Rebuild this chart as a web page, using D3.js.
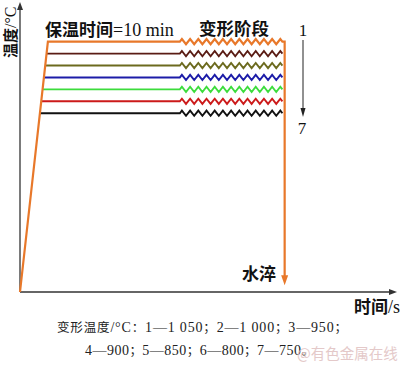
<!DOCTYPE html>
<html><head><meta charset="utf-8">
<script src="https://cdn.jsdelivr.net/npm/d3@7"></script>
<style>html,body{margin:0;padding:0;background:#fff;}svg{display:block;}</style>
</head><body>
<svg id="c" width="400" height="366"></svg>
<script>
// ---- data ----
const stepLabels = ["1","2","3","4","5","6","7"];
const deformTemps = [1050, 1000, 950, 900, 850, 800, 750];   // °C
const lineColors = ["#e8782a","#5a1c14","#6c6a1e","#1c1ca8","#3cdc3c","#cc1a1a","#111111"];
const heatEndTime = 7.4;      // time reaching 1050 °C (arbitrary units)
const deformStartTime = 42.4; // end of 10 min holding
const deformEndTime = 69.6;
const quenchTime = 70.2;
const quenchTemp = 28;
const zigzagTeeth = 12.5;
const captionLines = ["变形温度/°C：1—1 050；2—1 000；3—950；", "4—900；5—850；6—800；7—750。"];

// ---- scales ----
const svg = d3.select("#c");
const x = d3.scaleLinear().domain([0, 100]).range([20, 397]);
const y = d3.scaleLinear().domain([0, 1050]).range([292, 41.7]);
const latin = "'Liberation Serif','Noto Sans CJK SC',serif";
const cjk = "'Noto Sans CJK SC',sans-serif";

// mixed text: CJK runs and Latin runs with own size/weight
function mixed(sel, str, o) {
  const re = /([\u3000-\u303f\u4e00-\u9fff\uff00-\uffef]+)|([^\u3000-\u303f\u4e00-\u9fff\uff00-\uffef]+)/g;
  let m;
  while ((m = re.exec(str)) !== null) {
    if (m[1]) sel.append("tspan").attr("font-family", cjk).attr("font-size", o.cs).attr("font-weight", o.cw).text(m[1]);
    else sel.append("tspan").attr("font-family", latin).attr("font-size", o.ls).attr("font-weight", o.lw).text(m[2]);
  }
  return sel;
}

// axes
const axisColor = "#333";
svg.append("line").attr("x1", x(0)).attr("x2", 392).attr("y1", y(0)).attr("y2", y(0))
  .attr("stroke", axisColor).attr("stroke-width", 1.3);
svg.append("path").attr("d", `M397,${y(0)} L389,${y(0)-3} L389,${y(0)+3} Z`).attr("fill", axisColor);
svg.append("line").attr("x1", x(0)).attr("x2", x(0)).attr("y1", y(0)).attr("y2", 8)
  .attr("stroke", axisColor).attr("stroke-width", 1.3);
svg.append("path").attr("d", `M${x(0)},2 L${x(0)-3},10 L${x(0)+3},10 Z`).attr("fill", axisColor);

function zigzag(t0, t1, level) {
  const x0 = x(t0), x1 = x(t1), yl = y(level);
  const n = Math.round(zigzagTeeth * 2);
  const step = (x1 - x0) / n;
  const pts = [[x0, yl]];
  for (let i = 0; i < n; i++) {
    const xm = x0 + step * (i + 0.5);
    pts.push([xm, yl + (i % 2 === 0 ? -2.6 : 2.6)]);
  }
  pts.push([x1, yl]);
  return pts;
}

// lines (draw 7..2 first, orange on top)
const order = d3.range(deformTemps.length).reverse();
order.forEach(i => {
  const T = deformTemps[i];
  const tStart = heatEndTime * T / 1050;
  let pts = [];
  if (i === 0) pts.push([x(0), y(0)]);
  pts.push([x(tStart), y(T)]);
  pts.push([x(deformStartTime), y(T)]);
  pts = pts.concat(zigzag(deformStartTime, deformEndTime, T).slice(1));
  if (i === 0) {
    pts.push([x(quenchTime), y(T)]);
    pts.push([x(quenchTime), y(quenchTemp) - 8]);
  }
  svg.append("path").attr("d", d3.line()(pts)).attr("fill", "none")
    .attr("stroke", lineColors[i]).attr("stroke-width", i === 0 ? 2.2 : 1.9)
    .attr("stroke-linejoin", "miter");
  if (i === 0) {
    const xq = x(quenchTime), yq = y(quenchTemp);
    svg.append("path").attr("d", `M${xq},${yq} L${xq-3.5},${yq-10} L${xq+3.5},${yq-10} Z`)
      .attr("fill", lineColors[0]);
  }
});

// 1 -> 7 arrow
svg.append("text").attr("x", 303).attr("y", 36).attr("text-anchor", "middle")
  .attr("font-family", latin).attr("font-size", 17).attr("fill", "#111").text(stepLabels[0]);
svg.append("line").attr("x1", 303).attr("x2", 303).attr("y1", 40).attr("y2", 110)
  .attr("stroke", "#222").attr("stroke-width", 1);
svg.append("path").attr("d", "M303,117 L300.5,108 L305.5,108 Z").attr("fill", "#222");
svg.append("text").attr("x", 302).attr("y", 134).attr("text-anchor", "middle")
  .attr("font-family", latin).attr("font-size", 17).attr("fill", "#111").text(stepLabels[6]);

// labels
const lab = (tx, ty, s, cs, ls, anchor) => mixed(svg.append("text").attr("x", tx).attr("y", ty)
  .attr("text-anchor", anchor || "start").attr("fill", "#111"), s, {cs: cs, cw: "bold", ls: ls, lw: "normal"});
lab(45, 36, "保温时间=10 min", 17, 18);
lab(199, 35, "变形阶段", 17.5, 18);
lab(242, 280, "水淬", 17, 18);
lab(400, 313, "时间/s", 17, 18, "end");
mixed(svg.append("text").attr("transform", "translate(15.5,58) rotate(-90)").attr("fill", "#111"),
  "温度/°C", {cs: 15, cw: "bold", ls: 16, lw: "normal"});

// caption
mixed(svg.append("text").attr("x", 57).attr("y", 332).attr("fill", "#222")
  .attr("textLength", 290).attr("lengthAdjust", "spacing"), captionLines[0],
  {cs: 12.5, cw: "normal", ls: 14, lw: "normal"});
mixed(svg.append("text").attr("x", 85).attr("y", 355).attr("fill", "#222")
  .attr("textLength", 229).attr("lengthAdjust", "spacing"), captionLines[1],
  {cs: 12.5, cw: "normal", ls: 14, lw: "normal"});
svg.append("text").attr("x", 297).attr("y", 359).attr("font-family", cjk)
  .attr("font-size", 14.5).attr("fill", "#e2c4c4").attr("opacity", 0.9).text("@有色金属在线");
</script>
</body></html>
